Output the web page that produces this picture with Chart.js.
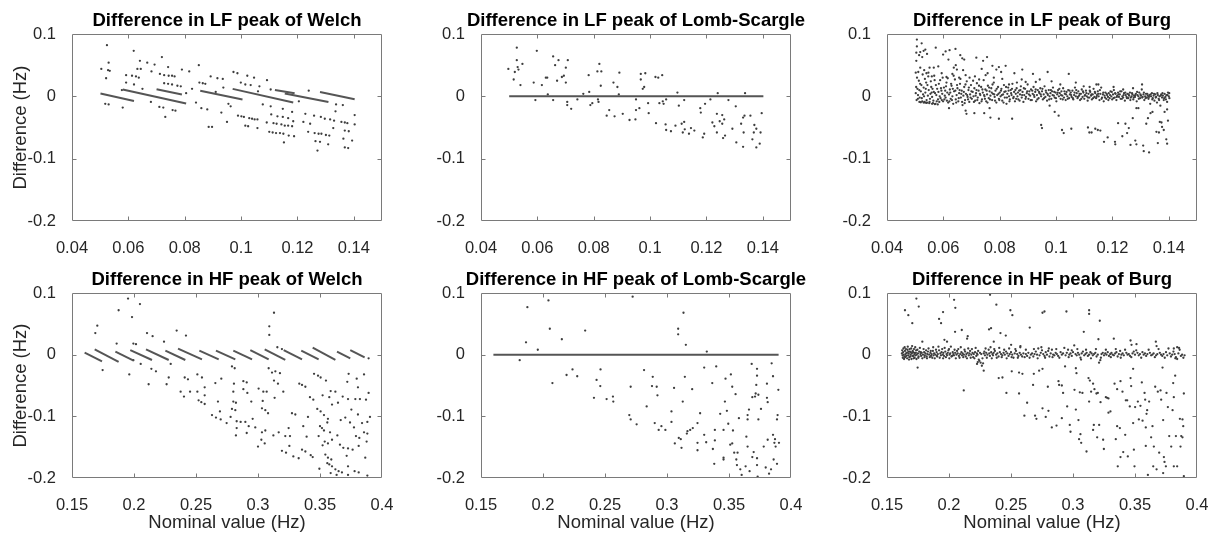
<!DOCTYPE html>
<html><head><meta charset="utf-8">
<script src="https://cdn.jsdelivr.net/npm/chart.js@4.4.1/dist/chart.umd.min.js"></script>
<style>
html,body{margin:0;padding:0;background:#fff;width:1215px;height:534px;overflow:hidden;position:relative}
canvas{position:absolute}
</style>
</head><body>
<canvas id="c0"></canvas><canvas id="c1"></canvas><canvas id="c2"></canvas>
<canvas id="c3"></canvas><canvas id="c4"></canvas><canvas id="c5"></canvas>
<script>
// ---- tick values ----
const xTicksLF = [0.04, 0.06, 0.08, 0.1, 0.12, 0.14];
const xTicksHF = [0.15, 0.2, 0.25, 0.3, 0.35, 0.4];
const yTicks = [-0.2, -0.1, 0, 0.1];
const xRangeLF = [0.04, 0.15];
const xRangeHF = [0.15, 0.4];
const yRange = [-0.2, 0.1];

// ---- data (values in thousandths of Hz: [nominal, difference]) ----
// dense runs of points drawn as short segments: [x1, y1, x2, y2]
const welchLFRuns = [[50.1,4.5,62,-7.5],[58,11,80.5,-11.5],[70,11.5,79,3],[85.5,9,100.5,-5],[97,12,118.5,-10],[112,10,119,5],[115.5,4.5,131,-9],[128,7,140.3,-4.8]];
const welchLF = [[52.4,82],[61.9,73],[53.0,54],[64.1,57],[66.7,54],[71.9,63],[69.3,51],[74.1,47],[50.4,44],[52.8,42],[53.4,41],[63.2,44],[64.4,44],[68.2,40],[79.0,43],[81.6,40],[85.0,50],[52.1,29],[59.2,34],[61.3,33],[62.7,32],[63.7,30],[71.2,36],[72.7,34],[74.3,33],[75.5,33],[76.4,32],[89.2,32],[91.6,29],[93.5,28],[97.3,39],[98.7,37],[102.2,33],[104.6,30],[109.2,26],[59.2,22],[62.0,19],[72.7,21],[74.1,20],[75.5,19],[77.4,17],[78.6,16],[85.2,22],[86.4,21],[87.3,20],[93.7,14],[99.9,22],[101.5,19],[103.4,18],[106.5,16],[82.6,12],[110.5,11],[51.8,-12],[53.0,-13],[58.0,-18],[71.0,-17],[72.4,-18],[75.7,-22],[76.7,-23],[73.1,-33],[85.9,-19],[88.0,-21],[93.0,-26],[96.3,-16],[88.5,-49],[89.7,-49],[95.0,-41],[98.9,-31],[100.1,-32],[101.0,-33],[102.9,-35],[103.9,-36],[104.8,-37],[105.8,-37],[101.5,-47],[102.5,-48],[105.8,-51],[107.7,-13],[110.5,-16],[110.7,-29],[112.9,-32],[114.8,-33],[116.7,-35],[118.1,-25],[114.8,-20],[118.5,-40],[109.1,-42],[111.5,-43],[112.6,-44],[114.3,-45],[115.5,-47],[116.7,-47],[118.1,-48],[110.0,-57],[111.2,-58],[112.4,-59],[113.8,-59],[115.0,-60],[116.9,-63],[118.8,-64],[115.2,-74],[122.8,-28],[125.9,-31],[128.3,-33],[129.7,-36],[131.6,-37],[133.0,-39],[135.6,-41],[136.8,-42],[137.7,-43],[140.3,-30],[140.3,-45],[122.1,-41],[124.5,-44],[133.5,-24],[123.8,-57],[126.1,-59],[127.5,-60],[128.5,-60],[130.1,-62],[131.3,-63],[132.7,-51],[136.8,-55],[138.2,-56],[126.4,-72],[128.0,-73],[130.9,-77],[136.3,-68],[139.4,-71],[127.1,-87],[136.8,-82],[138.0,-83],[133.7,-13],[136.1,-14],[57.7,10],[65.0,12],[68.0,-9],[80.5,5],[84.0,-10],[91.0,7],[95.5,-12],[106.0,8],[120.5,-8],[124.0,9]];

const lombLFRuns = [[50,0,140.2,0]];
const lombLF = [[52.7,78],[59.8,73],[65.6,64],[67.5,58],[70.8,58],[52.7,58],[54.7,52],[49.7,44],[53.0,47],[53.3,43],[52.0,39],[66.3,50],[70.1,46],[51.6,27],[54.0,18],[63.0,30],[63.5,30],[67.0,25],[68.7,31],[69.4,33],[70.1,22],[58.7,22],[61.6,18],[63.7,3],[78.2,34],[82.0,52],[81.3,40],[82.7,40],[82.5,17],[78.4,7],[76.3,4],[87.0,22],[88.4,15],[89.1,38],[88.9,3],[96.7,36],[98.3,37],[96.7,27],[97.9,15],[97.4,12],[101.9,31],[102.9,30],[104.3,34],[109.7,6],[124.0,5],[133.7,5],[59.3,-6],[65.6,-6],[70.6,-9],[70.6,-14],[72.0,-20],[74.2,-5],[78.8,-14],[79.5,-11],[81.5,-5],[81.7,-9],[85.5,-22],[84.6,-31],[87.4,-32],[90.3,-28],[92.7,-38],[94.8,-37],[95.0,-22],[96.2,-19],[95.0,-5],[99.3,-11],[99.5,-27],[103.3,-11],[104.5,-8],[104.8,-12],[105.7,-5],[102.1,-43],[105.5,-45],[105.7,-54],[107.4,-56],[109.0,-47],[111.2,-44],[112.1,-41],[112.3,-53],[111.6,-58],[113.8,-60],[114.5,-51],[115.7,-55],[110.2,-15],[112.1,-6],[117.8,-19],[118.0,-26],[119.5,-12],[121.4,-5],[119.2,-60],[118.7,-66],[122.1,-42],[122.8,-48],[123.7,-28],[123.7,-58],[124.7,-40],[125.6,-30],[125.6,-44],[126.3,-37],[125.9,-67],[126.6,-63],[127.8,-6],[130.4,-16],[129.2,-52],[130.6,-74],[132.3,-44],[133.0,-34],[133.5,-31],[133.2,-58],[133.0,-81],[135.6,-31],[137.0,-46],[137.7,-52],[136.8,-58],[136.3,-69],[137.7,-82],[139.2,-58],[138.9,-76],[139.6,-27]];

const burgLF = [[94.7,-46],[95,-51],[97.7,-15],[99.5,-25],[100.9,-31],[102.1,-54],[102.7,-59],[105.4,-52],[104.5,36],[97,39],[111.3,-50],[111.8,-58],[112.6,-58],[113.9,-52],[114.8,-54],[115.7,-55],[117,-73],[118.3,-66],[120.9,-73],[121,-77],[122,-43],[123.5,-64],[124.6,-44],[125.2,-59],[125.8,-51],[126.4,-78],[127.2,-35],[128.1,-71],[128.5,-77],[128.5,-19],[129.2,-19],[130.9,-79],[131.1,-88],[132,-44],[133,-90],[132.6,-35],[133.5,-27],[134.2,-25],[135.6,-57],[136.5,-58],[136.8,-41],[137.4,-42],[137.6,-49],[136.1,-75],[138.2,-54],[139.1,-69],[139.4,-76],[139.7,-39],[139.4,-21],[138.5,-25],[130.5,19],[114.3,19],[67.9,-23],[68.2,-28],[71,-27],[74.5,-27],[76.7,-34],[79.7,-36],[84.4,-36],[76.4,-19],[62,-19],
[50.6,91],[50.6,80],[52.3,85],[50.4,70],[51.8,71],[53.0,73],[53.6,75],[54.2,68],[51.4,66],[52.5,63],[50.4,57],[57.3,78],[59.9,67],[60.8,72],[62.2,74],[64.3,76],[66,66],[66.7,61],[67.4,59],[61.8,59],[71.7,62],[74.1,57],[75.5,63],[77.4,49],[79.7,47],[82.1,49],[80.5,39],[85.2,37],[88,43],[91.8,36],[58.2,48],[56.6,46],[55.1,46],[50.2,38],[51.1,39],[51.8,46],[53.2,42],[54,37],[54.7,38],[55.9,32],[59.4,37],[61.1,31],[63.2,36],[63.7,46],[64.4,50],[64.8,43],[65.6,30],[67,42],[67.9,34],[69.3,30],[71.2,32],[72.7,27],[73.6,44],[75,34],[75.7,37],[77.9,30],[78.8,43],[80.9,28],[83.3,19],[86.1,22],[87.8,27],[89.2,23],[92.8,23],[94.2,27],[98.4,24],[101.5,19],[107,22],[109.8,16],[111.9,15],[115,19],[120.4,15],[123.8,11],[127.3,13],
[50.2,5],[50.5,-6],[50.8,12],[51.0,2],[51.3,25],[51.6,-2],[52.0,8],[52.2,18],[52.5,-8],[52.8,3],[53.0,14],[53.3,-9],[53.6,6],[53.9,22],[54.2,-10],[54.5,1],[54.8,10],[55.1,-9],[55.4,4],[55.7,15],[56.0,-1],[56.3,-11],[56.6,7],[56.9,26],[57.2,-12],[57.5,2],[57.8,12],[58.1,-5],[58.4,20],[58.7,0],[59.0,-3],[59.3,9],[59.6,4],[59.9,-8],[60.2,14],[60.5,1],[60.8,-2],[61.1,22],[61.4,6],[61.7,-10],[62.0,3],[62.3,11],[62.6,-4],[62.9,17],[63.2,0],[63.5,-12],[63.8,8],[64.1,27],[64.4,-5],[64.7,2],[65.0,13],[65.3,-8],[65.6,5],[65.9,20],[66.2,-2],[66.5,9],[66.8,-14],[67.1,1],[67.4,15],[67.7,-6],[68.0,4],[68.3,24],[68.6,-1],[68.9,10],[69.2,-9],[69.5,3],[69.8,18],[70.1,-4],[70.4,7],[70.7,0],[71.0,13],[71.3,-7],[71.6,5],[71.9,21],[72.2,-2],[72.5,9],[72.8,-11],[73.1,2],[73.4,15],[73.7,-5],[74.0,6],[74.3,26],[74.6,0],[74.9,11],[75.2,-8],[75.5,3],[75.8,17],[76.1,-3],[76.4,8],[76.7,1],[77.0,13],[77.3,-6],[77.6,4],[77.9,22],[78.2,-1],[78.5,9],[78.8,-10],[79.1,2],[79.4,15],[79.7,-4],[80.0,6],[80.3,0],[80.6,12],[80.9,-7],[81.2,3],[81.5,18],[81.8,-2],[82.1,8],[82.4,-12],[82.7,4],[83.0,14],[83.3,0],[83.6,-5],[83.9,10],[84.2,2],[84.5,20],[84.8,-3],[85.1,7],[85.4,-8],[85.7,4],[86.0,13],[86.3,0],[86.6,-5],[86.9,9],[87.2,3],[87.5,16],[87.8,-2],[88.1,7],[88.4,-9],[88.7,2],[89.0,12],[89.3,-1],[89.6,5],[89.9,19],[90.2,-4],[90.5,8],[90.8,1],[91.1,11],[91.4,-6],[91.7,4],[92.0,15],[92.3,-1],[92.6,7],[92.9,-8],[93.2,2],[93.5,10],[93.8,-3],[94.1,5],[94.4,13],[94.7,0],[95.0,8],[95.3,-5],[95.6,3],[95.9,16],[96.2,-1],[96.5,6],[96.8,-7],[97.1,2],[97.4,10],[97.7,0],[98.0,5],[98.3,-4],[98.6,8],[98.9,14],[99.2,1],[99.5,-2],[99.8,6],[100.1,-8],[100.4,3],[100.7,10],[101.0,0],[101.3,5],[101.6,-4],[101.9,8],[102.2,1],[102.5,13],[102.8,-2],[103.1,4],[103.4,-6],[103.7,7],[104.0,0],[104.3,10],[104.6,-3],[104.9,3],[105.2,6],[105.5,-1],[105.8,9],[106.1,-5],[106.4,2],[106.7,14],[107.0,0],[107.3,5],[107.6,-3],[107.9,8],[108.2,1],[108.5,-6],[108.8,4],[109.1,11],[109.4,-1],[109.7,6],[110.0,-4],[110.3,2],[110.6,9],[110.9,0],[111.2,-7],[111.5,4],[111.8,-2],[112.1,7],[112.4,1],[112.7,-5],[113.0,3],[113.3,12],[113.6,-1],[113.9,5],[114.2,-3],[114.5,2],[114.8,8],[115.1,0],[115.4,-6],[115.7,4],[116.0,14],[116.3,-2],[116.6,3],[116.9,-8],[117.2,1],[117.5,6],[117.8,-4],[118.1,2],[118.4,-1],[118.7,5],[119.0,-3],[119.3,8],[119.6,0],[119.9,-5],[120.2,3],[120.5,10],[120.8,-2],[121.1,4],[121.4,-6],[121.7,1],[122.0,6],[122.3,-1],[122.6,3],[122.9,-4],[123.2,8],[123.5,0],[123.8,-2],[124.1,5],[124.4,-7],[124.7,2],[125.0,-1],[125.3,4],[125.6,-3],[125.9,1],[126.2,6],[126.5,-2],[126.8,0],[127.1,3],[127.4,-5],[127.7,1],[128.0,-1],[128.3,4],[128.6,-8],[128.9,2],[129.2,0],[129.5,6],[129.8,-3],[130.1,1],[130.4,11],[130.7,-1],[131.0,3],[131.3,-6],[131.6,0],[131.9,4],[132.2,-2],[132.5,1],[132.8,-4],[133.1,2],[133.4,-12],[133.7,0],[134.0,5],[134.3,-3],[134.6,1],[134.9,-7],[135.2,3],[135.5,-1],[135.8,-10],[136.1,2],[136.4,-4],[136.7,0],[137.0,-15],[137.3,3],[137.6,-2],[137.9,1],[138.2,-6],[138.5,4],[138.8,-1],[139.1,2],[139.4,-9],[139.7,6],[140.0,0],[140.2,-3],
[51.5,-9],[52,-9.5],[53,-10],[53.5,-10],[54,-10.5],[55,-11],[56,-12],[57,-12.5],[58,-13],
[50.35,15],[50.65,30],[50.95,-4],[51.45,10],[51.75,20],[52.35,-3],[52.65,35],[53.15,0],[53.45,28],[53.75,12],[54.05,-6],[54.35,18],[54.65,32],[55.25,-4],[55.55,24],[55.85,6],[56.15,12],[56.45,-7],[56.75,33],[57.05,5],[57.35,18],[57.65,-8],[58.25,7],[58.55,-9],[58.85,26],[59.15,13],[59.45,-6],[59.75,30],[60.35,-5],[60.65,9],[60.95,16],[61.25,-7],[61.55,29],[62.15,-8],[62.45,6],[62.75,20],[63.05,-6],[63.35,12],[63.65,33],[64.25,9],[64.55,-10],[64.85,18],[65.45,-3],[65.75,10],[66.05,28],[66.35,4],[66.65,-9],[67.25,7],[67.55,-11],[67.85,19],[68.45,2],[68.75,-5],[69.05,14],[69.65,-2],[69.95,8],[70.55,25],[70.85,-9],[71.45,1],[71.75,10],[72.05,-6],[72.65,17],[72.95,4],[73.55,-8],[73.85,11],[74.45,2],[74.75,-4],[75.35,9],[75.65,-10],[76.25,14],[76.55,-5],[77.15,6],[77.45,19],[78.05,3],[78.35,-7],[78.95,12],[79.55,4],[79.85,-6],[80.45,9],[80.75,2],[81.35,-10],[81.65,7],[82.25,15],[82.55,-2],[83.15,9],[83.45,-8],[84.05,5],[84.35,12],[84.95,-1],[85.55,10],[85.85,-4],[86.45,6],[87.05,-7],[87.35,10],[87.95,2],[88.55,13],[89.15,-4],[89.75,8],[90.35,3],[90.95,-6],[91.55,9],[92.15,2],[92.75,11],[93.35,-5],[93.95,7],[94.55,3],[95.15,12],[95.75,-3],[96.35,9],[96.95,4],[97.55,-5],[98.15,10],[98.75,2],[99.35,7],[99.95,-3],[100.55,6],[101.15,12],[101.75,2],[102.35,-5],[102.95,8],[103.55,3],[104.15,-4],[104.75,9],[105.35,2],[105.95,-3],[106.55,6],[107.15,10],[107.75,-1],[108.35,4],[108.95,-4],[109.55,8],[110.15,1],[110.75,5],[111.35,-2],[111.95,9],[112.55,3],[113.15,-3],[113.75,7],[114.35,-1],[114.95,4],[115.55,10],[116.15,-4],[116.75,6],[117.35,-2],[117.95,4],[118.55,-6],[119.15,2],[119.75,7],[120.35,-3],[120.95,5],[121.55,-1],[122.15,3],[122.75,8],[123.35,-4],[123.95,2],[124.55,6],[125.15,-3],[125.75,3],[126.35,-6],[126.95,5],[127.55,-2],[128.15,2],[128.75,7],[129.35,-4],[129.95,3],[130.55,-2],[131.15,6],[131.75,-3],[132.35,4],[132.95,-1],[133.55,3],[134.15,-5],[134.75,4],[135.35,-2],[135.95,5],[136.55,-6],[137.15,1],[137.75,5],[138.35,-3],[138.95,-5],[139.55,2],[140.15,5]];

const welchHFRuns = [[160.2,3.2,174.2,-10.8],[168.3,8.6,187.6,-11.8],[185.0,4.8,199.7,-9.7],[197.0,7.5,214.5,-8.6],[209.7,8.6,228.0,-8.6],[225.3,6.5,241.4,-8.6],[235.5,9.7,254.8,-7.5],[252.7,6.5,268.3,-7.5],[266.1,6.5,281.7,-7.5],[280.1,6.5,295.2,-7.5],[293.8,7.5,308.6,-7.5],[305.4,8.6,322.0,-8.6],[320.7,7.5,335.5,-7.5],[334.9,6.5,348.9,-7.5],[344.1,11.3,362.4,-8.6],[363.7,4.8,374.4,-5.9],[374.4,7.5,386.0,-4.3]];
const welchHF = [[195.2,91],[187.6,72],[198.4,61],[204.8,82],[170.4,47],[168.8,35],[210.5,35],[215.0,30],[234.4,39],[241.9,31],[186.0,18],[224.2,21],[199.5,18],[201.6,17],[312.9,68],[309.1,46],[309.1,32],[315.6,12],[319.3,9],[174.7,-25],[196.2,-32],[199.5,-9],[205.4,-15],[211.8,-48],[214.0,-23],[217.7,-27],[226.3,-48],[228.0,-37],[229.6,-15],[237.6,-60],[240.9,-37],[243.5,-40],[240.3,-68],[245.2,-60],[251.1,-32],[251.1,-60],[254.8,-37],[257.0,-53],[257.0,-66],[252.1,-74],[254.3,-77],[257.0,-80],[267.7,-76],[265.6,-46],[270.4,-39],[262.9,-98],[266.1,-102],[269.9,-105],[274.7,-111],[269.3,-92],[280.1,-60],[279.0,-19],[281.2,-22],[280.6,-47],[280.1,-76],[282.2,-78],[279.0,-88],[281.7,-90],[277.9,-101],[282.8,-108],[286.0,-109],[282.8,-119],[282.2,-131],[288.2,-43],[290.9,-45],[288.2,-56],[291.4,-62],[289.8,-109],[292.5,-116],[294.6,-76],[295.7,-104],[297.8,-118],[290.9,-127],[300.0,-149],[302.7,-138],[305.4,-144],[305.9,-123],[303.2,-126],[300.5,-55],[304.3,-60],[308.6,-22],[307.0,-60],[303.2,-87],[305.9,-90],[308.1,-95],[303.8,-75],[312.4,-131],[314.0,-27],[317.7,-30],[311.3,-29],[312.9,-42],[316.1,-47],[313.4,-70],[320.4,-60],[316.7,-126],[322.0,-132],[319.3,-156],[322.6,-159],[325.3,-148],[324.7,-119],[327.4,-95],[330.1,-97],[325.8,-132],[328.5,-165],[332.8,-168],[335.5,-154],[338.2,-157],[342.5,-163],[344.1,-166],[336.5,-116],[340.3,-101],[339.2,-133],[333.3,-47],[335.5,-49],[338.2,-52],[345.2,-31],[348.4,-34],[350.5,-37],[354.8,-42],[341.9,-69],[344.6,-73],[347.8,-88],[350.5,-92],[353.2,-98],[356.4,-104],[352.1,-66],[357.5,-69],[350.0,-116],[351.6,-119],[353.2,-123],[355.9,-110],[358.1,-126],[359.7,-138],[353.8,-141],[356.4,-144],[348.9,-132],[352.1,-147],[354.3,-162],[356.4,-167],[359.1,-170],[349.5,-185],[355.9,-176],[357.5,-178],[359.7,-181],[362.4,-186],[365.0,-189],[367.7,-191],[358.6,-59],[362.4,-60],[359.7,-81],[364.5,-78],[368.3,-68],[372.6,-72],[373.1,-31],[372.0,-44],[379.6,-39],[380.6,-53],[385.5,-32],[389.2,-62],[378.5,-72],[382.2,-72],[387.1,-73],[375.3,-89],[370.4,-102],[380.6,-97],[390.3,-101],[366.7,-106],[374.2,-110],[377.4,-118],[383.9,-111],[388.2,-109],[364.0,-131],[366.1,-146],[368.8,-151],[372.6,-152],[376.3,-154],[381.2,-148],[379.0,-132],[381.7,-135],[385.5,-126],[388.2,-128],[387.6,-141],[386.5,-167],[371.5,-164],[372.6,-181],[377.9,-189],[381.2,-191],[358.6,-192],[363.4,-195],[372.6,-195],[388.2,-196],[389.2,-6]];

const lombHFRuns = [[160,0,390,0]];
const lombHF = [[272.3,94],[204.4,88],[187.4,77],[205.5,42],[234.0,39],[215.2,25],[186.3,20],[195.8,8],[313.3,68],[309.0,42],[309.0,33],[315.2,16],[332.1,5],[181.2,-9],[207.6,-46],[219.0,-33],[223.8,-24],[227.6,-35],[241.1,-70],[243.2,-41],[246.4,-24],[246.2,-51],[251.3,-72],[256.4,-68],[256.7,-76],[269.6,-98],[270.7,-105],[270.7,-52],[275.5,-113],[281.5,-25],[283.6,-84],[287.9,-51],[288.5,-36],[291.7,-52],[292.3,-66],[290.1,-111],[293.3,-122],[295.5,-116],[298.7,-122],[303.6,-92],[303.6,-109],[305.7,-54],[306.3,-144],[309.5,-135],[311.1,-137],[311.7,-151],[312.7,-76],[314.4,-36],[316.0,-128],[316.5,-124],[318.7,-122],[320.8,-119],[320.3,-56],[324.6,-111],[326.7,-95],[324.6,-143],[324.6,-155],[330.0,-21],[330.0,-130],[331.6,-142],[336.5,-46],[337.0,-153],[338.1,-177],[338.6,-122],[338.6,-139],[339.7,-19],[342.9,-96],[345.6,-122],[345.6,-167],[345.6,-170],[346.7,-76],[347.2,-39],[348.3,-91],[349.4,-112],[351.0,-146],[351.5,-32],[352.6,-52],[352.6,-144],[353.2,-123],[354.2,-159],[355.3,-64],[355.9,-170],[356.9,-159],[358.0,-103],[356.4,-179],[359.1,-186],[360.2,-195],[363.4,-181],[364.0,-133],[365.0,-149],[365.0,-98],[365.0,-105],[366.1,-89],[366.6,-189],[368.3,-15],[368.8,-69],[368.8,-166],[369.9,-158],[371.0,-68],[371.5,-63],[372.0,-49],[372.6,-23],[372.6,-34],[372.6,-168],[372.6,-179],[373.1,-198],[373.7,-105],[373.7,-65],[375.8,-88],[378.0,-149],[379.6,-183],[381.2,-138],[380.6,-47],[380.6,-70],[381.2,-77],[382.3,-193],[383.9,-186],[384.4,-14],[385.5,-35],[385.5,-130],[386.0,-170],[386.6,-143],[387.1,-137],[387.6,-149],[388.7,-177],[388.7,-105],[389.2,-98],[389.8,-57],[390.3,-143]];

const burgHF = [[173.7,91],[164.5,72],[167.2,64],[175.6,78],[170.4,51],[204.1,89],[205.1,76],[195.2,69],[192.0,58],[193.6,51],[233.1,97],[238.2,81],[249.5,72],[251.1,64],[275.4,68],[277.0,70],[294.7,70],[313.0,72],[313.0,66],[321.6,55],[204.9,37],[210.3,40],[215.1,30],[214.6,26],[233.9,43],[232.3,41],[241.5,35],[245.8,31],[265.1,44],[308.7,37],[332.9,26],[320.5,25],[346.4,23],[347.2,16],[351.2,17],[366.8,21],[367.4,14],[381.3,10],[384.0,12],[196.3,24],[198.4,21],[178.5,21],[236.1,21],[250.1,16],[257.6,14],
[174.7,-21],[211.9,-58],[222.6,-15],[228.0,-26],[223.2,-12],[240.1,-38],[243.1,-37],[246.3,-62],[250.6,-27],[256.5,-29],[256.5,-63],[259.2,-31],[260.8,-99],[263.0,-78],[267.8,-49],[269.4,-99],[270.5,-104],[268.4,-31],[272.7,-26],[275.4,-87],[275.4,-23],[278.0,-101],[279.7,-52],[280.2,-91],[282.9,-118],[286.7,-115],[288.3,-43],[288.8,-49],[291.0,-50],[291.0,-103],[292.0,-62],[293.6,-19],[295.3,-84],[297.4,-114],[298.0,-125],[301.2,-57],[302.3,-22],[302.8,-30],[302.3,-89],[304.4,-106],[305.5,-61],[306.0,-129],[304.9,-137],[306.6,-143],[307.6,-62],[310.9,-157],[312.5,-38],[313.6,-42],[313.0,-76],[314.6,-60],[316.2,-47],[317.3,-56],[318.9,-63],[320.0,-62],[316.2,-122],[316.8,-114],[319.5,-134],[321.1,-114],[322.2,-77],[326.5,-69],[327.5,-70],[328.6,-71],[324.3,-138],[324.9,-153],[328.6,-94],[330.2,-92],[333.5,-47],[334.5,-137],[335.6,-116],[336.1,-181],[335.6,-56],[337.8,-119],[338.3,-166],[338.3,-43],[339.9,-60],[340.5,-158],[342.1,-130],[342.6,-74],[343.7,-74],[344.2,-165],[345.8,-84],[346.4,-38],[346.9,-51],[348.5,-23],[348.5,-111],[349.6,-181],[349.1,-154],[350.1,-85],[352.3,-76],[353.1,-105],[354.4,-83],[355.5,-45],[356.1,-107],[357.7,-62],[358.2,-73],[358.7,-118],[359.3,-96],[359.8,-90],[358.7,-148],[360.4,-195],[361.4,-76],[363.0,-134],[364.1,-116],[364.7,-181],[365.2,-149],[366.3,-52],[367.4,-186],[368.4,-60],[369.5,-159],[370.6,-58],[371.1,-73],[372.2,-21],[372.7,-106],[373.3,-166],[373.8,-174],[374.9,-181],[372.7,-192],[375.4,-62],[376.5,-85],[377.6,-132],[379.2,-149],[380.3,-90],[380.8,-46],[381.3,-69],[381.3,-181],[382.4,-34],[383.0,-132],[384.0,-181],[386.2,-104],[386.7,-149],[387.3,-132],[388.3,-134],[388.3,-105],[389.4,-197],[389.4,-63],[388.9,-116],
[162,2],[162.5,-1],[163,4],[163.5,0],[164,-3],[164.5,6],[165,1],[165.5,-2],[166,3],[166.5,8],[167,-1],[167.5,2],[168,-4],[168.5,5],[169,0],[169.5,10],[170,2],[170.5,-2],[171,4],[171.5,-6],[172,1],[172.5,3],[173,-1],[173.5,7],[174,0],[175,2],[175.5,-3],[176,5],[177,1],[177.5,-2],[178,3],[179,0],[180,4],[180.5,-1],[181,2],[182,-3],[182.5,1],[183,5],[184,0],[185,3],[185.5,-2],[186,1],[187,6],[187.5,-1],[188,2],[189,0],[190,4],[190.5,-3],[191,1],[192,7],[193,2],[193.5,-1],[194,4],[195,0],[195.5,3],[196,-2],[197,5],[198,1],[198.5,-1],[199,3],[200,9],[200.5,0],[201,2],[202,-3],[203,4],[203.5,1],[204,-1],[205,3],[206,0],[206.5,6],[207,2],[208,-2],[209,1],[210,4],[210.5,-1],[211,2],[212,0],[213,5],[213.5,-3],[214,1],[215,3],[216,-1],[216.5,2],[217,6],[218,0],[219,3],[219.5,-4],[220,1],[221,4],[222,-2],[222.5,2],[223,0],[224,-8],[224.5,-10],[225,3],[225.5,-13],[226,1],[227,-6],[228,2],[228.5,5],[229,-1],[230,3],[231,0],[232,8],[232.5,2],[233,-2],[234,4],[235,1],[235.5,-1],[236,3],[237,6],[238,0],[239,2],[240,-3],[241,4],[242,1],[243,-1],[244,3],[245,0],[246,5],[247,2],[248,-2],[249,1],[250,4],[251,0],[252,-5],[253,2],[254,6],[255,1],[256,-2],[257,3],[258,0],[260,2],[261,-4],[262,1],[263,-2],[264,3],[266,0],[267,2],[268,-3],[269,1],[270,5],[271,0],[272,10],[273,-1],[274,3],[275,7],[276,1],[277,-2],[278,4],[279,0],[280,6],[281,-3],[282,2],[283,8],[284,0],[285,-1],[286,3],[287,1],[288,-2],[290,4],[291,0],[292,2],[294,-1],[295,3],[296,8],[297,0],[298,2],[299,-2],[300,4],[301,15],[302,1],[303,-1],[304,3],[305,0],[306,-5],[307,2],[308,5],[309,-1],[310,1],[311,3],[312,-2],[313,0],[314,4],[315,2],[316,-1],[317,1],[318,3],[319,-3],[320,0],[321,-13],[322,-9],[323,1],[324,3],[325,-1],[326,2],[327,0],[328,4],[329,-2],[330,1],[331,3],[332,0],[333,-1],[334,2],[335,4],[336,-3],[337,1],[338,6],[339,0],[340,2],[341,-1],[343,3],[344,0],[345,1],[346,-2],[348,2],[349,5],[350,0],[352,3],[353,-1],[354,1],[356,4],[357,0],[358,2],[359,-2],[360,1],[362,3],[363,-1],[364,0],[365,2],[367,-1],[368,1],[370,3],[371,0],[372,-2],[373,1],[375,4],[376,-1],[378,2],[379,-3],[380,0],[381,5],[382,1],[383,-4],[384,-7],[385,2],[386,8],[387,-2],[388,0],[390,-1],
[162.25,7],[162.75,-5],[163.25,10],[163.75,-7],[164.25,12],[164.75,-4],[165.25,9],[165.75,3],[166.25,-6],[166.75,13],[167.25,5],[167.75,-8],[168.25,9],[168.75,-3],[169.25,4],[169.75,-7],[170.25,14],[170.75,6],[171.25,-2],[171.75,9],[172.25,-5],[172.75,12],[173.25,3],[173.75,-7],[174.5,8],[175.25,-5],[176.5,11],[177.25,4],[178.5,-6],[179.5,9],[180.25,-4],[181.5,7],[182.25,-6],[183.5,10],[184.5,-4],[185.25,6],[186.5,-5],[187.25,12],[188.5,-6],[189.5,8],[190.25,-2],[191.5,13],[192.5,-5],[194.5,9],[195.25,-6],[196.5,11],[197.5,-4],[199.5,7],[200.25,-6],[201.5,13],[202.5,-2],[204.5,8],[205.5,-6],[207.5,9],[208.5,-5],[209.5,12],[211.5,-4],[212.5,8],[214.5,-6],[215.5,10],[217.5,-5],[218.5,9],[220.5,-6],[221.5,11],[223.5,6],[226.5,-18],[227.5,-14],[229.5,10],[230.5,-5],[233.5,12],[234.5,-6],[236.5,9],[238.5,-5],[240.5,11],[242.5,-4],[244.5,8],[246.5,-6],[248.5,10],[250.5,-4],[253.5,9],[255.5,-5],[257.5,12],[259,-3],[262,8],[265,-5],[268.5,9],[271.5,-6],[274.5,12],[277.5,-5],[280.5,10],[283.5,-4],[286.5,9],[289,-5],[293,11],[296.5,-4],[299,7],[303.5,9],[306.5,-8],[310.5,8],[314.5,-6],[318.5,9],[322.5,-5],[326.5,8],[330.5,-4],[334.5,9],[338.5,-5],[342,8],[347,-4],[351,7],[355,-5],[361,8],[366,-4],[369,9],[374,-5],[377,10],[382.5,-6],[385.5,11],[389,-5]];

// ---- labels ----
const titles = ['Difference in LF peak of Welch','Difference in LF peak of Lomb-Scargle','Difference in LF peak of Burg',
                'Difference in HF peak of Welch','Difference in HF peak of Lomb-Scargle','Difference in HF peak of Burg'];
const yLabel = 'Difference (Hz)';
const xLabel = 'Nominal value (Hz)';

// ---- layout ----
const FONT = "'Liberation Sans', Arial, Helvetica, sans-serif";
// canvas left edge / width; axis band width on each side (so the plot is centred in its canvas)
const cols = [{left:0, width:454, side:72},{left:405, width:462, side:76},{left:810, width:464, side:77}];
const rows = [{top:0, titlePad:{top:10,bottom:1.8}, xH:46},{top:267, titlePad:{top:1.8,bottom:2}, xH:56}];

const panels = [
  {pts:welchLF, runs:welchLFRuns, band:'LF'},
  {pts:lombLF, runs:lombLFRuns, band:'LF'},
  {pts:burgLF, runs:[], band:'LF'},
  {pts:welchHF, runs:welchHFRuns, band:'HF'},
  {pts:lombHF, runs:lombHFRuns, band:'HF'},
  {pts:burgHF, runs:[], band:'HF'}
];

const boxPlugin = {
  id:'matlabBox',
  afterDatasetsDraw(chart){
    const {ctx, chartArea:a, scales} = chart;
    const xs = scales.x, ys = scales.y;
    ctx.save();
    ctx.strokeStyle = '#7a7a7a';
    ctx.lineWidth = 1;
    ctx.beginPath();
    const L = Math.round(a.left)+0.5, R = Math.round(a.right)-0.5, T = Math.round(a.top)+0.5, B = Math.round(a.bottom)-0.5;
    ctx.rect(L, T, R-L, B-T);
    const tl = 4;
    xs.ticks.forEach(t => {
      const px = Math.round(xs.getPixelForValue(t.value))+0.5;
      if (px <= L+1 || px >= R-1) return;
      ctx.moveTo(px, B); ctx.lineTo(px, B-tl);
      ctx.moveTo(px, T); ctx.lineTo(px, T+tl);
    });
    ys.ticks.forEach(t => {
      const py = Math.round(ys.getPixelForValue(t.value))+0.5;
      if (py <= T+1 || py >= B-1) return;
      ctx.moveTo(L, py); ctx.lineTo(L+tl, py);
      ctx.moveTo(R, py); ctx.lineTo(R-tl, py);
    });
    ctx.stroke();
    ctx.restore();
  }
};

const toXY = p => ({x: p[0]/1000, y: p[1]/1000});

panels.forEach((p, i) => {
  const col = cols[i % 3], row = rows[Math.floor(i / 3)];
  const cv = document.getElementById('c' + i);
  cv.width = col.width; cv.height = 267;
  cv.style.left = col.left + 'px'; cv.style.top = row.top + 'px';
  cv.style.width = col.width + 'px'; cv.style.height = '267px';
  const xTicks = p.band === 'LF' ? xTicksLF : xTicksHF;
  const xr = p.band === 'LF' ? xRangeLF : xRangeHF;
  const datasets = [];
  p.runs.forEach(s => datasets.push({
    data: [toXY([s[0], s[1]]), toXY([s[2], s[3]])],
    showLine: true, borderColor: '#555555', borderWidth: 2, pointRadius: 0, fill: false
  }));
  datasets.push({
    data: p.pts.map(toXY), showLine: false,
    pointRadius: 1.15, pointBorderWidth: 0, pointBackgroundColor: '#3d3d3d', backgroundColor: '#3d3d3d'
  });
  new Chart(cv, {
    type: 'scatter',
    data: {datasets},
    options: {
      responsive: false, animation: false, devicePixelRatio: 1,
      layout: {padding: 0},
      plugins: {
        legend: {display: false}, tooltip: {enabled: false},
        title: {display: true, text: titles[i], color: '#000',
                font: {family: FONT, size: 18.5, weight: 'bold'}, padding: row.titlePad}
      },
      scales: {
        x: {
          type: 'linear', min: xr[0], max: xr[1],
          afterBuildTicks: s => { s.ticks = xTicks.map(v => ({value: v})); },
          afterFit: s => { s.height = row.xH; },
          grid: {display: false}, border: {display: false},
          ticks: {color: '#262626', font: {family: FONT, size: 16.5}, padding: 10, maxRotation: 0, autoSkip: false,
                  callback: v => String(+v.toFixed(3))},
          title: {display: i >= 3, text: xLabel, color: '#262626', font: {family: FONT, size: 18.5}, padding: {top: 0, bottom: 0}}
        },
        y: {
          type: 'linear', position: 'left', min: yRange[0], max: yRange[1],
          afterBuildTicks: s => { s.ticks = yTicks.map(v => ({value: v})); },
          afterFit: s => { s.width = col.side; },
          grid: {display: false}, border: {display: false},
          ticks: {color: '#262626', font: {family: FONT, size: 16.5}, padding: 8, autoSkip: false,
                  callback: v => String(+v.toFixed(3))},
          title: {display: i % 3 === 0, text: yLabel, color: '#262626', font: {family: FONT, size: 18.5},
                  padding: {top: 9.9, bottom: 0}}
        },
        yRight: {
          type: 'linear', position: 'right', min: yRange[0], max: yRange[1],
          afterFit: s => { s.width = col.side; },
          grid: {display: false}, border: {display: false},
          ticks: {display: false}
        }
      }
    },
    plugins: [boxPlugin]
  });
});
</script>
</body></html>
